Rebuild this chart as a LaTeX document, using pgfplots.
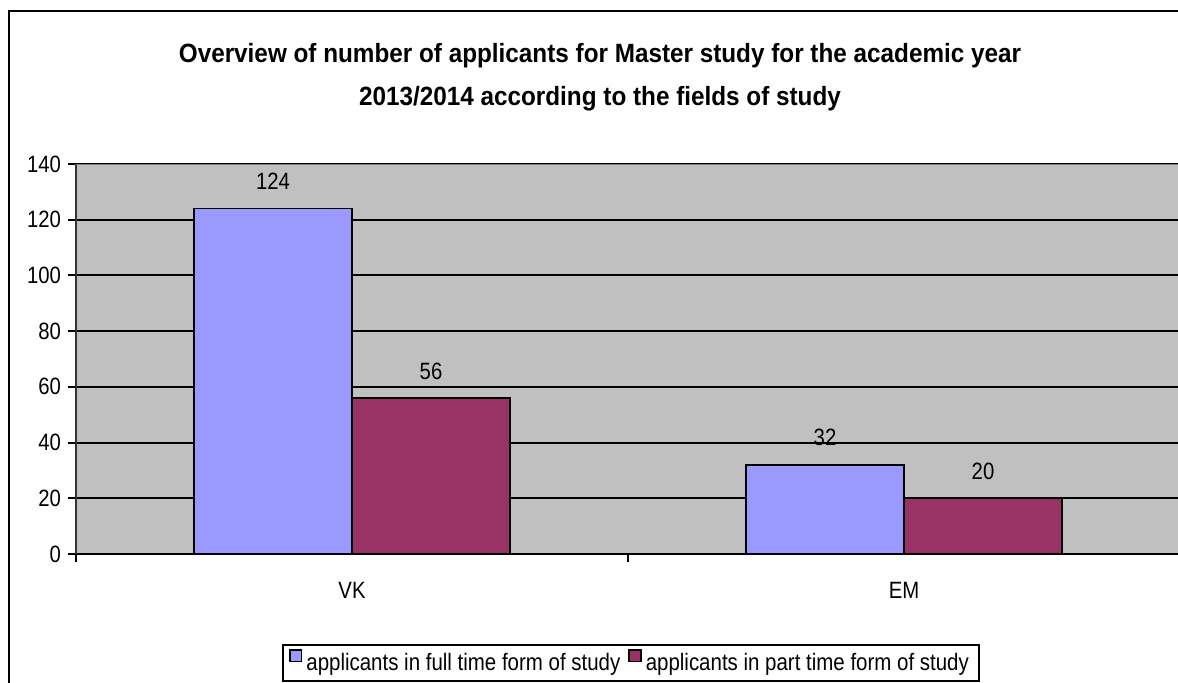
\documentclass[border=0pt]{standalone}
\usepackage{fontspec}
\setmainfont{Liberation Sans}[FakeStretch=0.86]
\newfontfamily\titlefont{Liberation Sans}[FakeStretch=0.92]
\usepackage{pgfplots}
\pgfplotsset{compat=1.18}
\definecolor{fullc}{HTML}{9999FF}
\definecolor{partc}{HTML}{993366}
\definecolor{plotbg}{HTML}{C0C0C0}
\begin{document}
\begin{tikzpicture}
\path[use as bounding box] (0,0) rectangle (589pt,341pt);
\clip (0,0) rectangle (589pt,341pt);
\fill[white] (0,0) rectangle (589pt,341pt);
\draw[line width=1pt] (4.5pt,-5pt) -- (4.5pt,335.5pt) -- (600pt,335.5pt);
\node[anchor=base, font=\titlefont\bfseries\fontsize{13.2pt}{15pt}\selectfont] at (300pt,309.5pt) {Overview of number of applicants for Master study for the academic year};
\node[anchor=base, font=\titlefont\bfseries\fontsize{13.2pt}{15pt}\selectfont] at (300pt,288pt) {2013/2014 according to the fields of study};
\begin{axis}[
  at={(38pt,64pt)}, anchor=south west,
  scale only axis, width=552pt, height=195pt,
  ybar=0pt, bar width=79pt,
  xmin=-0.5, xmax=1.5, ymin=0, ymax=140,
  ytick={0,20,...,140},
  xtick={-0.5,0.5,1.5}, xticklabels={},
  extra x ticks={0,1}, extra x tick labels={VK,EM},
  extra x tick style={major tick length=0pt, xticklabel style={anchor=center, yshift=-18pt}},
  tick align=outside, major tick length=4pt,
  tick style={black, line width=1pt},
  axis lines*=left,
  x axis line style={black, line width=1pt},
  y axis line style={black!80, line width=1pt},
  ymajorgrids, grid style={black, line width=1pt},
  axis background/.style={fill=plotbg},
  ticklabel style={font=\fontsize{11.8pt}{13pt}\selectfont},
  /pgf/number format/assume math mode=true,
  nodes near coords,
  every node near coord/.append style={font=\fontsize{11.8pt}{13pt}\selectfont, anchor=center, yshift=13.5pt, black},
  legend style={at={(0.1866,-0.2308)}, anchor=north west, legend columns=2,
    draw=black, line width=1pt, fill=white,
    font=\fontsize{11.9pt}{13pt}\selectfont,
    /tikz/every even column/.append style={column sep=2pt}},
  legend image code/.code={\draw[#1, draw=black, line width=0.9pt] (0pt,0.8pt) rectangle (5.8pt,6.6pt);},
]
\addplot[fill=fullc, draw=black, line width=0.75pt] coordinates {(0,124) (1,32)};
\addplot[fill=partc, draw=black, line width=0.75pt] coordinates {(0,56) (1,20)};
\draw[color=gray, line width=1pt] (rel axis cs:0,1) -- (rel axis cs:1,1);
\addlegendentry{applicants in full time form of study\rule[-14pt]{0pt}{0pt}}
\addlegendentry{applicants in part time form of study\rule[-14pt]{0pt}{0pt}}
\end{axis}
\end{tikzpicture}
\end{document}
